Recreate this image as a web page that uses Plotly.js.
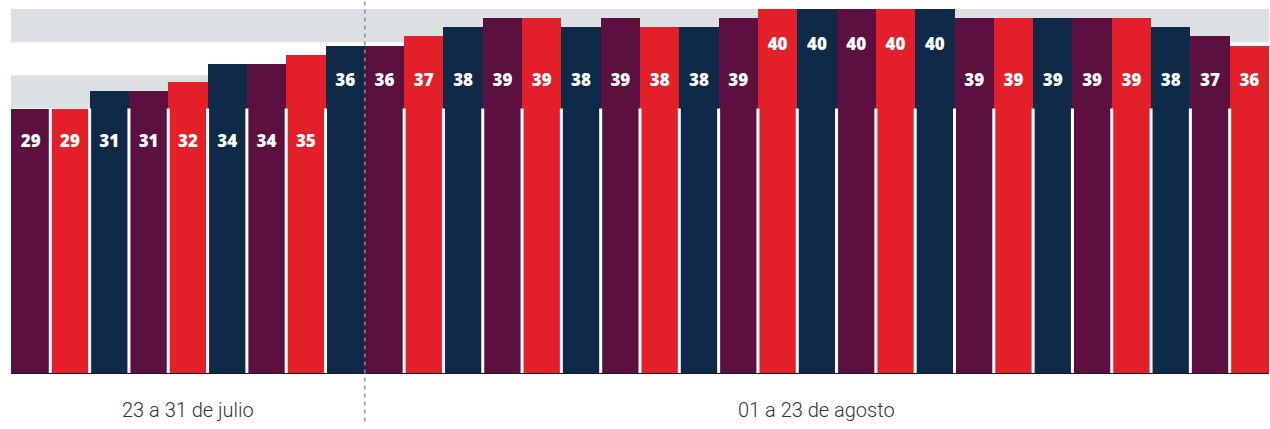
<!DOCTYPE html>
<html>
<head>
<meta charset="utf-8">
<script src="https://cdn.plot.ly/plotly-3.0.1.min.js"></script>
<style>html,body{margin:0;padding:0;background:#fff;}#chart{width:1270px;height:429px;}</style>
</head>
<body>
<div id="chart"></div>
<script>
// Data
const days = ["23 jul","24 jul","25 jul","26 jul","27 jul","28 jul","29 jul","30 jul","31 jul",
  "01 ago","02 ago","03 ago","04 ago","05 ago","06 ago","07 ago","08 ago","09 ago","10 ago",
  "11 ago","12 ago","13 ago","14 ago","15 ago","16 ago","17 ago","18 ago","19 ago","20 ago",
  "21 ago","22 ago","23 ago"];
const temps = [29,29,31,31,32,34,34,35,36,
  36,37,38,39,39,38,39,38,38,39,40,40,40,40,40,39,39,39,39,39,38,37,36];
const periodLabels = ["23 a 31 de julio","01 a 23 de agosto"];
const periodCounts = [9, 23];

const palette = ["#5b1040","#e3202a","#0f2a48"];
const xs = temps.map((_, i) => i);
const colors = temps.map((_, i) => palette[i % 3]);
const maxV = 40;
const labelY = temps.map(v => v >= 40 ? 36 : (v >= 36 ? 32 : 25.3));

const bars = {
  type: "bar", x: xs, y: temps, marker: {color: colors, line: {width: 0}},
  hoverinfo: "skip", showlegend: false
};
const labels = {
  type: "scatter", mode: "text", x: xs, y: labelY, text: temps.map(String),
  textposition: "middle center",
  textfont: {family: "Open Sans", size: 17, color: "#ffffff", weight: 800},
  hoverinfo: "skip", showlegend: false
};

const shapes = [];
const band = maxV / 11;
shapes.push({type: "rect", layer: "below", xref: "paper", yref: "y", x0: 0, x1: 1, y0: maxV - band, y1: maxV, fillcolor: "#dde0e3", line: {width: 0}});
shapes.push({type: "rect", layer: "below", xref: "paper", yref: "y", x0: 0, x1: 1, y0: maxV - 3 * band, y1: maxV - 2 * band, fillcolor: "#dde0e3", line: {width: 0}});
const splitAt = periodCounts[0] - 0.5;
for (let i = 0; i < temps.length - 1; i++) {
  const bx = i + 0.5;
  if (bx === splitAt) continue;
  shapes.push({type: "line", layer: "above", xref: "x", yref: "y", x0: bx, x1: bx, y0: 0, y1: maxV - 3 * band, line: {color: "#ffffff", width: 3}});
}
shapes.push({type: "line", layer: "above", xref: "paper", yref: "y", x0: 0, x1: 1, y0: 0, y1: 0, line: {color: "#1e1a1c", width: 2}});
shapes.push({type: "line", layer: "above", xref: "x", yref: "paper", x0: splitAt, x1: splitAt, y0: -0.13, y1: 1.03, line: {color: "#8c8c8c", width: 1.5, dash: "4px,4px"}});

const annotations = [];
let start = 0;
periodLabels.forEach((t, k) => {
  const c = start + (periodCounts[k] - 1) / 2;
  annotations.push({x: c, xref: "x", y: -0.099, yref: "paper", text: t, showarrow: false,
    xanchor: "center", yanchor: "middle",
    font: {family: "Roboto", size: 20, color: "#333333", weight: 300}});
  start += periodCounts[k];
});

const layout = {
  width: 1270, height: 429,
  margin: {l: 11, r: 1, t: 9, b: 55},
  paper_bgcolor: "#ffffff", plot_bgcolor: "rgba(0,0,0,0)",
  bargap: 0,
  xaxis: {range: [-0.5, temps.length - 0.5], visible: false, fixedrange: true},
  yaxis: {range: [0, maxV], visible: false, fixedrange: true},
  shapes: shapes, annotations: annotations, showlegend: false
};
Plotly.newPlot("chart", [bars, labels], layout, {displayModeBar: false, staticPlot: true});
</script>
</body>
</html>
